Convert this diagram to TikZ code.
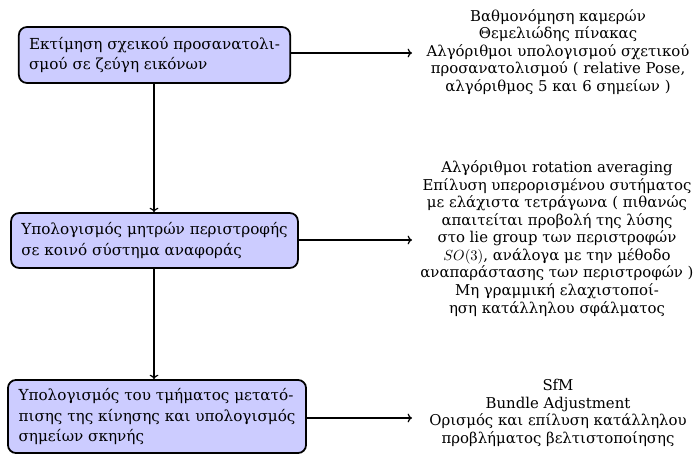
\documentclass[tikz,border=0pt]{standalone}
\usepackage{fontspec}
\setmainfont{DejaVu Serif}
\usetikzlibrary{arrows.meta}
\begin{document}
\begin{tikzpicture}[x=0.6845pt, y=-0.6845pt,
  stage/.style={draw=black, line width=1.2pt, rounded corners=5.5pt, fill=blue!20,
    align=left, inner xsep=7pt, inner ysep=5pt, font=\fontsize{10.4}{14}\selectfont},
  notes/.style={align=center, inner sep=3pt, font=\fontsize{10.2}{12}\selectfont},
  link/.style={draw=black, line width=0.8pt, -{To[length=3pt,width=6pt]}}]
  \useasboundingbox (0,0) rectangle (694,455);

  % processing stages
  \node[stage, minimum width=181.4pt, minimum height=38.3pt] (s1) at (154.5,55)
    {Εκτίμηση σχεικού προσανατολι-\\σμού σε ζεύγη εικόνων};
  \node[stage, minimum width=192.3pt, minimum height=37.6pt] (s2) at (154.5,240.5)
    {Υπολογισμός μητρών περιστροφής\\σε κοινό σύστημα αναφοράς};
  \node[stage, minimum width=204pt, minimum height=50pt] (s3) at (157,416.5)
    {Υπολογισμός του τμήματος μετατό-\\πισης της κίνησης και υπολογισμός\\σημείων σκηνής};

  % notes for each stage
  \node[notes] (n1) at (558,52)
    {Βαθμονόμηση καμερών\\Θεμελιώδης πίνακας\\Αλγόριθμοι υπολογισμού σχετικού\\προσανατολισμού ( relative Pose,\\αλγόριθμος 5 και 6 σημείων )};
  \node[notes] (n2) at (557,238.5)
    {Αλγόριθμοι rotation averaging\\Επίλυση υπερορισμένου συτήματος\\με ελάχιστα τετράγωνα ( πιθανώς\\απαιτείται προβολή της λύσης\\στο lie group των περιστροφών\\$SO(3)$, ανάλογα με την μέθοδο\\αναπαράστασης των περιστροφών )\\Μη γραμμική ελαχιστοποί-\\ηση κατάλληλου σφάλματος};
  \node[notes] (n3) at (558,413)
    {SfM\\Bundle Adjustment\\Ορισμός και επίλυση κατάλληλου\\προβλήματος βελτιστοποίησης};

  % connectors
  \draw[link] (s1.south -| 154,0) -- (s2.north -| 154,0);
  \draw[link] (s2.south -| 154,0) -- (s3.north -| 154,0);
  \draw[link] (s1.east |- 0,53) -- (412,53);
  \draw[link] (s2.east |- 0,240) -- (412,240);
  \draw[link] (s3.east |- 0,418) -- (412,418);
\end{tikzpicture}
\end{document}
